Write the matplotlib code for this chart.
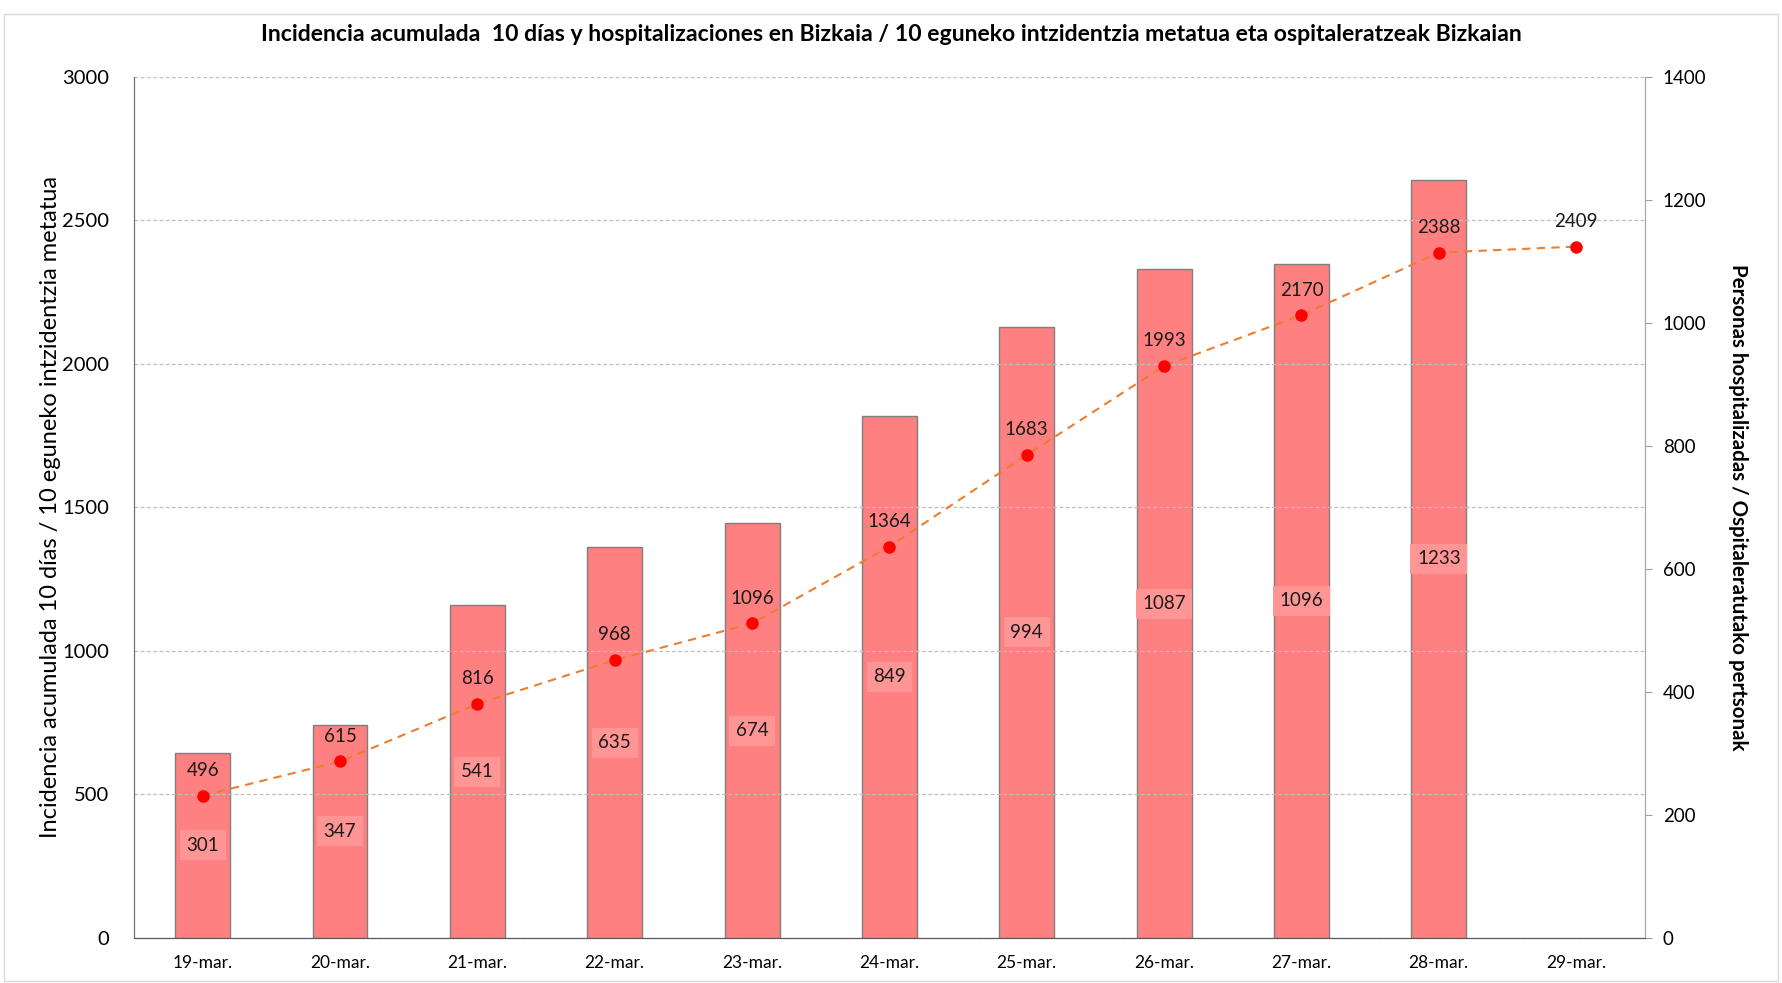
import matplotlib
matplotlib.use('Agg')
import matplotlib.pyplot as plt
from matplotlib.patches import Rectangle

# datos
fechas = ['19-mar.', '20-mar.', '21-mar.', '22-mar.', '23-mar.', '24-mar.',
          '25-mar.', '26-mar.', '27-mar.', '28-mar.', '29-mar.']
incidencia = [496, 615, 816, 968, 1096, 1364, 1683, 1993, 2170, 2388, 2409]
hospitalizados = [301, 347, 541, 635, 674, 849, 994, 1087, 1096, 1233]

plt.rcParams['font.family'] = ['Lato', 'DejaVu Sans']

fig = plt.figure(figsize=(17.82, 9.83), dpi=100)
ax = fig.add_axes([0.0752, 0.0458, 0.8478, 0.8759])
ax2 = ax.twinx()

x = list(range(len(fechas)))
xb = x[:len(hospitalizados)]

# barras en el eje derecho
ax2.bar(xb, hospitalizados, width=0.4, color='#ff8080', edgecolor='#7f7f7f',
        linewidth=1, zorder=2)
for xi, v in zip(xb, hospitalizados):
    ax2.text(xi, v / 2, str(v), ha='center', va='center', fontsize=13.5,
             color='#1a1a1a',
             bbox=dict(boxstyle='square,pad=0.35', fc='#ff9595', ec='none'))
ax2.set_ylim(0, 1400)
ax2.set_yticks(range(0, 1401, 200))

# linea en el eje izquierdo
ax.plot(x, incidencia, ls=(0, (4, 3)), color='#ed7d31', lw=1.5, zorder=5)
ax.plot(x, incidencia, 'o', color='#ff0000', ms=8, zorder=6)
for xi, v in zip(x, incidencia):
    ax.annotate(str(v), (xi, v), xytext=(0, 12), textcoords='offset points',
                ha='center', va='bottom', fontsize=13.5, color='#1a1a1a', zorder=7)
ax.set_ylim(0, 3000)
ax.set_yticks(range(0, 3001, 500))
ax.set_xlim(-0.5, len(fechas) - 0.5)
ax.set_xticks(x)
ax.set_xticklabels(fechas, fontsize=12.5)
ax.tick_params(axis='x', length=0, pad=12)
ax.tick_params(axis='y', length=0, labelsize=14.5, pad=18)
ax2.tick_params(axis='y', length=5, color='#a0a0a0', labelsize=13.5, pad=8)

ax.yaxis.grid(True, ls=(0, (3, 2)), color='#bfbfbf', lw=0.9)
ax.set_axisbelow(True)
ax.set_zorder(ax2.get_zorder() + 1)
ax.patch.set_visible(False)

for a in (ax, ax2):
    a.spines['top'].set_visible(False)
    a.spines['left'].set_color('#6e6e6e')
    a.spines['bottom'].set_color('#595959')
    a.spines['right'].set_color('#a6a6a6')

ax.set_ylabel('Incidencia acumulada 10 días / 10 eguneko intzidentzia metatua',
              fontsize=17, labelpad=1)
ax2.set_ylabel('Personas hospitalizadas / Ospitaleratutako pertsonak',
               fontsize=14.8, fontweight='bold', rotation=270, labelpad=30)

fig.text(0.5, 0.965,
         'Incidencia acumulada  10 días y hospitalizaciones en Bizkaia / '
         '10 eguneko intzidentzia metatua eta ospitaleratzeak Bizkaian',
         ha='center', va='center', fontsize=16.6, fontweight='bold')

fig.patches.append(Rectangle((0.002, 0.002), 0.996, 0.984, transform=fig.transFigure,
                             fill=False, ec='#d9d9d9', lw=1))

fig.savefig('out.png', dpi=100)
